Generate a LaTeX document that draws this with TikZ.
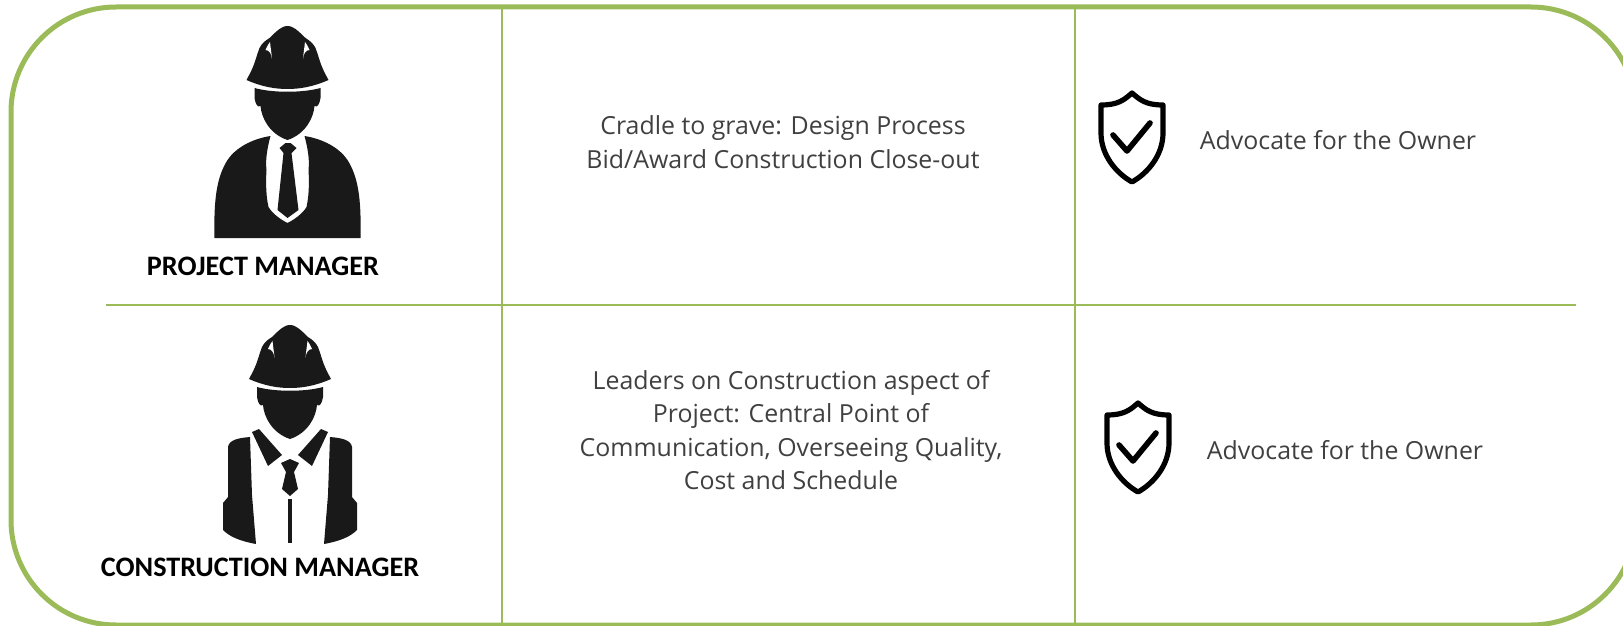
\documentclass[tikz,border=0pt]{standalone}
\usepackage{fontspec}
\setmainfont{Carlito}
\newfontfamily\bodyfont{Open Sans}
\definecolor{grn}{HTML}{9BBB59}
\definecolor{ink}{HTML}{191919}
\definecolor{txt}{HTML}{404040}
\tikzset{
  rule/.style={draw=grn,line width=2pt},
  frame/.style={draw=grn,line width=5pt},
  body/.style={font=\bodyfont\fontsize{24.9}{33.5}\selectfont,text=txt,align=center,inner sep=0pt},
  role/.style={font=\fontsize{28.2}{32}\selectfont\bfseries,text=black,inner sep=0pt},
  sil/.style={fill=ink,draw=none},
  shieldline/.style={draw=black,line width=5.2pt,line join=round,line cap=round}
}
\newcommand{\helmet}{%
  \fill[sil] (0,0) .. controls (-4,0) and (-6,2) .. (-8,3) .. controls (-12,6) and (-15,9) .. (-18,12)
    .. controls (-23,15) and (-26,18) .. (-28,22) .. controls (-31,30) and (-33,38) .. (-35,42)
    .. controls (-37,47) and (-39,50) .. (-41,54) .. controls (-25,61) and (-12,63) .. (0,63)
    .. controls (12,63) and (25,61) .. (41,54) .. controls (39,50) and (37,47) .. (35,42)
    .. controls (33,38) and (31,30) .. (28,22) .. controls (26,18) and (23,15) .. (18,12)
    .. controls (15,9) and (12,6) .. (8,3) .. controls (6,2) and (4,0) .. (0,0) -- cycle;
  \fill[white] (-17.5,16) .. controls (-19,18) and (-21,21) .. (-22,24) .. controls (-18,24) and (-16,28) .. (-15.5,33) .. controls (-16,27) and (-17,21) .. (-17.5,16) -- cycle;
  \fill[white] (17.5,16) .. controls (19,18) and (21,21) .. (22,24) .. controls (18,24) and (16,28) .. (15.5,33) .. controls (16,27) and (17,21) .. (17.5,16) -- cycle;
  \fill[sil] (-33,62) .. controls (-15,67) and (15,67) .. (33,62) -- (33,72)
    .. controls (32,78) and (30,82) .. (27,80) .. controls (26,92) and (18,108) .. (0,114)
    .. controls (-18,108) and (-26,92) .. (-27,80) .. controls (-30,82) and (-32,78) .. (-33,72) -- cycle;
}
\newcommand{\shield}{%
  \draw[shieldline] (0,0) .. controls (-8,7) and (-14,12) .. (-31,12) -- (-31,40)
    .. controls (-31,62) and (-16,80) .. (0,89) .. controls (16,80) and (31,62) .. (31,40)
    -- (31,12) .. controls (14,12) and (8,7) .. (0,0) -- cycle;
  \draw[shieldline,line width=5.6pt] (-19,42) -- (-5,58) -- (18,30);
}
\begin{document}
\begin{tikzpicture}[x=1pt,y=-1pt]
\useasboundingbox (0,0) rectangle (1623,626);
\begin{scope}
\clip (0,0) rectangle (1623,626);
\draw[frame] (11,112) .. controls (11,54) and (58,7) .. (116,7) -- (1531,7)
  .. controls (1589,7) and (1636,54) .. (1636,112) -- (1636,520)
  .. controls (1636,578) and (1589,625) .. (1531,625) -- (116,625)
  .. controls (58,625) and (11,578) .. (11,520) -- cycle;
\end{scope}
\coordinate (v1t) at (502,9); \coordinate (v1b) at (502,624);
\coordinate (v2t) at (1075,9); \coordinate (v2b) at (1075,624);
\coordinate (hl) at (106,305); \coordinate (hr) at (1576,305);
\draw[rule] (v1t) -- (v1b);
\draw[rule] (v2t) -- (v2b);
\draw[rule] (hl) -- (hr);
% project manager
\begin{scope}[shift={(287.5,26)}]
\helmet
\fill[sil] (-73,212) .. controls (-74,170) and (-70,150) .. (-60,134) .. controls (-52,122) and (-36,113) .. (-17,110)
  .. controls (-21,125) and (-22,135) .. (-21,144) .. controls (-22,160) and (-21,172) .. (-19,181)
  .. controls (-15,188) and (-6,194) .. (0,197) .. controls (6,194) and (15,188) .. (19,181)
  .. controls (21,172) and (22,160) .. (21,144) .. controls (22,135) and (21,125) .. (17,110)
  .. controls (36,113) and (52,122) .. (60,134) .. controls (70,150) and (74,170) .. (73,212) -- cycle;
\fill[sil] (-8,122) -- (-2,117) -- (3,117) -- (9,122) -- (4,127) -- (11,184) -- (0,192) -- (-10,184) -- (-4,127) -- cycle;
\end{scope}
% construction manager
\begin{scope}[shift={(290,325)}]
\helmet
\fill[sil] (-38,107) -- (-31,104) -- (-8,130) -- (-22,141) -- cycle;
\fill[sil] (38,107) -- (31,104) -- (8,130) -- (22,141) -- cycle;
\fill[sil] (0,134) -- (9,138) -- (4,147) -- (8,164) -- (0,171) -- (-8,164) -- (-4,147) -- (-9,138) -- cycle;
\fill[sil] (-1.6,174) -- (1.6,174) -- (1.6,218) -- (-1.6,218) -- cycle;
\fill[sil] (-40,112) -- (-38,170) -- (-34,219) .. controls (-50,216) and (-60,212) .. (-67,205) -- (-67,178) -- (-62,172) -- (-62,122)
  .. controls (-61,115) and (-52,113) .. (-40,112) -- cycle;
\fill[sil] (40,112) -- (38,170) -- (34,219) .. controls (50,216) and (60,212) .. (67,205) -- (67,178) -- (62,172) -- (62,122)
  .. controls (61,115) and (52,113) .. (40,112) -- cycle;
\end{scope}
\node[role] (pm) at (263,266) {PROJECT MANAGER};
\node[role] (cm) at (260,567) {CONSTRUCTION MANAGER};
\node[body] (t1) at (783,142) {Cradle to grave: Design Process\\Bid/Award Construction Close-out};
\node[body] (t2) at (791,430) {Leaders on Construction aspect of\\Project: Central Point of\\Communication, Overseeing Quality,\\Cost and Schedule};
\begin{scope}[shift={(1132,93)}]\shield\end{scope}
\begin{scope}[shift={(1138,403)}]\shield\end{scope}
\node[body] (a1) at (1338,140) {Advocate for the Owner};
\node[body] (a2) at (1345,450) {Advocate for the Owner};
\end{tikzpicture}
\end{document}
